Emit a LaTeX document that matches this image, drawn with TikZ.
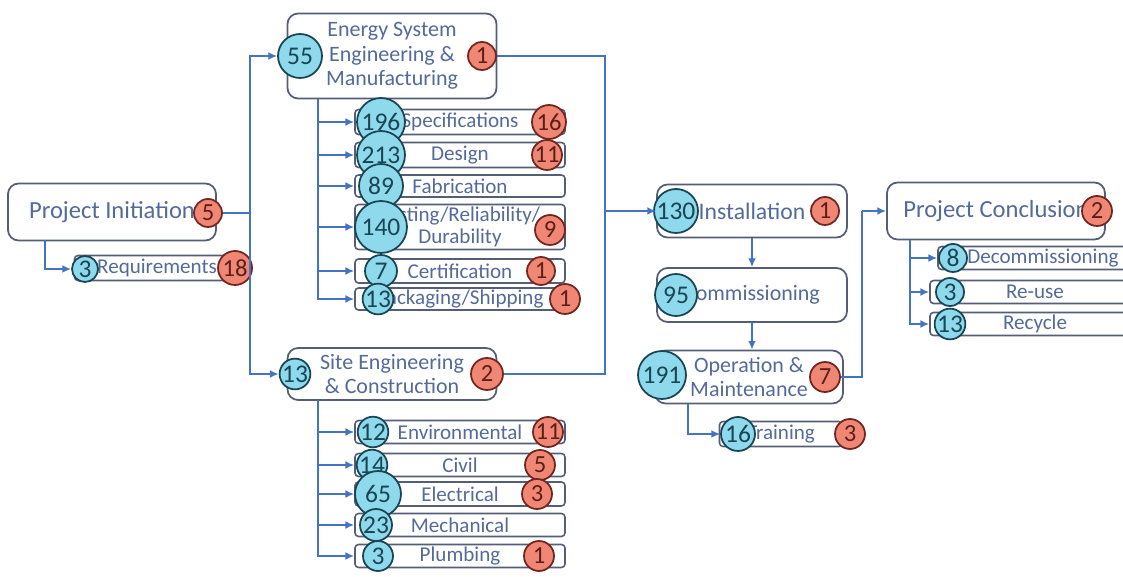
\documentclass[tikz,border=0pt]{standalone}
\usepackage{fontspec}
\setmainfont{Carlito}
\usetikzlibrary{arrows.meta}
\definecolor{LinkClr}{rgb}{0.27,0.45,0.76}
\definecolor{BoxClr}{rgb}{0.33,0.37,0.46}
\definecolor{TextClr}{rgb}{0.33,0.42,0.6}
\definecolor{CountClr}{rgb}{0.56,0.85,0.93}
\definecolor{CountLine}{rgb}{0.1,0.27,0.33}
\definecolor{IssueClr}{rgb}{0.94,0.53,0.46}
\definecolor{IssueLine}{rgb}{0.45,0.15,0.12}

\begin{document}
\begin{tikzpicture}[x=0.02cm,y=-0.02cm,
  stage/.style={draw=BoxClr,line width=1pt,rounded corners=6pt,fill=white,text=TextClr,
    align=center,inner sep=0pt,font=\fontsize{12.5}{14}\selectfont},
  big/.style={font=\fontsize{14}{16}\selectfont},
  task/.style={draw=BoxClr,line width=0.9pt,rounded corners=2pt,fill=white,text=TextClr,
    align=center,inner sep=0pt,font=\fontsize{12}{12.5}\selectfont},
  count/.style={circle,draw=CountLine,line width=1pt,fill=CountClr,inner sep=0pt,
    minimum size=#1*0.04cm,text=CountLine,font=\fontsize{14.5}{14.5}\selectfont},
  issue/.style={circle,draw=IssueLine,line width=1pt,fill=IssueClr,inner sep=0pt,
    minimum size=#1*0.04cm,text=IssueLine!80!black,font=\fontsize{14}{14}\selectfont},
  link/.style={draw=LinkClr,line width=1.3pt},
  flow/.style={link,-{Latex[length=5pt,width=4.5pt]}}]

\useasboundingbox (0,0) rectangle (1123,577);

% project initiation
\node[stage,big,minimum width=4.16cm,minimum height=1.14cm] (init) at (112,212) {Project Initiation};
\node[task,minimum width=3.3cm,minimum height=0.5cm] (req) at (157,268) {Requirements};
\node[issue=14] (initI) at (208,213) {5};
\node[count=13] (reqN) at (85,269) {3};
\node[issue=17] (reqI) at (235,268) {18};

% energy system engineering & manufacturing
\node[stage,minimum width=4.18cm,minimum height=1.7cm] (esm) at (392,56)
  {Energy System\\Engineering \&\\Manufacturing};
\node[task,minimum width=4.2cm,minimum height=0.5cm] (spec) at (460,122) {Specifications};
\node[task,minimum width=4.2cm,minimum height=0.5cm] (design) at (460,155) {Design};
\node[task,minimum width=4.2cm,minimum height=0.44cm] (fab) at (460,186) {Fabrication};
\node[task,minimum width=4.2cm,minimum height=0.9cm] (test) at (460,227)
  {Testing/Reliability/\\Durability};
\node[task,minimum width=4.2cm,minimum height=0.48cm] (cert) at (460,271) {Certification};
\node[task,minimum width=4.2cm,minimum height=0.44cm] (pack) at (460,299) {Packaging/Shipping};
\node[count=22] (esmN) at (300,56) {55};
\node[issue=14] (esmI) at (482,56) {1};
\node[count=24] (specN) at (381,122) {196};
\node[issue=17] (specI) at (549,122) {16};
\node[count=24] (designN) at (381,155) {213};
\node[issue=15] (designI) at (547,155) {11};
\node[count=22] (fabN) at (381,186) {89};
\node[count=26] (testN) at (381,227) {140};
\node[issue=15] (testI) at (550,230) {9};
\node[count=16] (certN) at (381,271) {7};
\node[issue=14] (certI) at (541,271) {1};
\node[count=15] (packN) at (378,299) {13};
\node[issue=15] (packI) at (565,299) {1};

% site engineering & construction
\node[stage,minimum width=4.18cm,minimum height=1.04cm] (site) at (392,374)
  {Site Engineering\\\& Construction};
\node[task,minimum width=4.2cm,minimum height=0.46cm] (env) at (460,432) {Environmental};
\node[task,minimum width=4.2cm,minimum height=0.46cm] (civil) at (460,465) {Civil};
\node[task,minimum width=4.2cm,minimum height=0.48cm] (elec) at (460,494) {Electrical};
\node[task,minimum width=4.2cm,minimum height=0.46cm] (mech) at (460,525) {Mechanical};
\node[task,minimum width=4.2cm,minimum height=0.46cm] (plumb) at (460,556) {Plumbing};
\node[count=15] (siteN) at (295,374) {13};
\node[issue=16] (siteI) at (487,374) {2};
\node[count=14] (envN) at (373,432) {12};
\node[issue=15] (envI) at (548,432) {11};
\node[count=14] (civilN) at (372,465) {14};
\node[issue=15] (civilI) at (540,465) {5};
\node[count=23] (elecN) at (378,494) {65};
\node[issue=15] (elecI) at (537,494) {3};
\node[count=16] (mechN) at (376,525) {23};
\node[count=15] (plumbN) at (378,556) {3};
\node[issue=15] (plumbI) at (539,556) {1};

% installation, commissioning, operation
\node[stage,font=\fontsize{13.5}{15}\selectfont,minimum width=3.8cm,minimum height=1.06cm] (inst) at (752,211) {Installation};
\node[stage,minimum width=3.8cm,minimum height=1.08cm] (comm) at (752,295) {Commissioning};
\node[stage,minimum width=3.76cm,minimum height=1.06cm] (oper) at (749,377)
  {Operation \&\\Maintenance};
\node[task,minimum width=2.46cm,minimum height=0.5cm] (train) at (781,434) {Training};
\node[count=22] (instN) at (676,211) {130};
\node[issue=14] (instI) at (825,211) {1};
\node[count=21] (commN) at (676,295) {95};
\node[count=24] (operN) at (662,375) {191};
\node[issue=15] (operI) at (825,377) {7};
\node[count=17] (trainN) at (738,434) {16};
\node[issue=15] (trainI) at (850,434) {3};

% project conclusion
\node[stage,big,minimum width=4.36cm,minimum height=1.14cm] (conc) at (996,211) {Project Conclusion};
\node[task,minimum width=4.2cm,minimum height=0.46cm] (decom) at (1043,258) {Decommissioning};
\node[task,minimum width=4.2cm,minimum height=0.46cm] (reuse) at (1035,292) {Re-use};
\node[task,minimum width=4.2cm,minimum height=0.46cm] (recyc) at (1035,324) {Recycle};
\node[issue=15] (concI) at (1097,211) {2};
\node[count=14] (decomN) at (953,258) {8};
\node[count=14] (reuseN) at (950,292) {3};
\node[count=14] (recycN) at (950,324) {13};

% connectors
\coordinate (initBus) at (45,240);
\coordinate (leftBus) at (250,213);
\coordinate (esmBus) at (318,99);
\coordinate (siteBus) at (318,400);
\coordinate (rightBus) at (605,211);
\coordinate (operBus) at (688,404);
\coordinate (concBus) at (862,211);
\coordinate (concSub) at (910,240);

\draw[flow] (initBus) |- (reqN);
\draw[link] (initI) -- (leftBus);
\draw[flow] (leftBus) |- (esmN);
\draw[flow] (leftBus) |- (siteN);
\foreach \t in {spec,design,fab,test,cert,pack}
  \draw[flow] (esmBus) |- (\t.west);
\foreach \t in {env,civil,elec,mech,plumb}
  \draw[flow] (siteBus) |- (\t.west);
\draw[link] (esmI) -| (rightBus);
\draw[link] (siteI) -| (rightBus);
\draw[flow] (rightBus) -- (inst.west);
\draw[flow] (inst) -- (comm);
\draw[flow] (comm.south) -- (oper.north -| comm.south);
\draw[flow] (operBus) |- (trainN);
\draw[link] (operI) -| (concBus);
\draw[flow] (concBus) -- (conc.west);
\foreach \t in {decom,reuse,recyc}
  \draw[flow] (concSub) |- (\t.west);

\end{tikzpicture}
\end{document}
